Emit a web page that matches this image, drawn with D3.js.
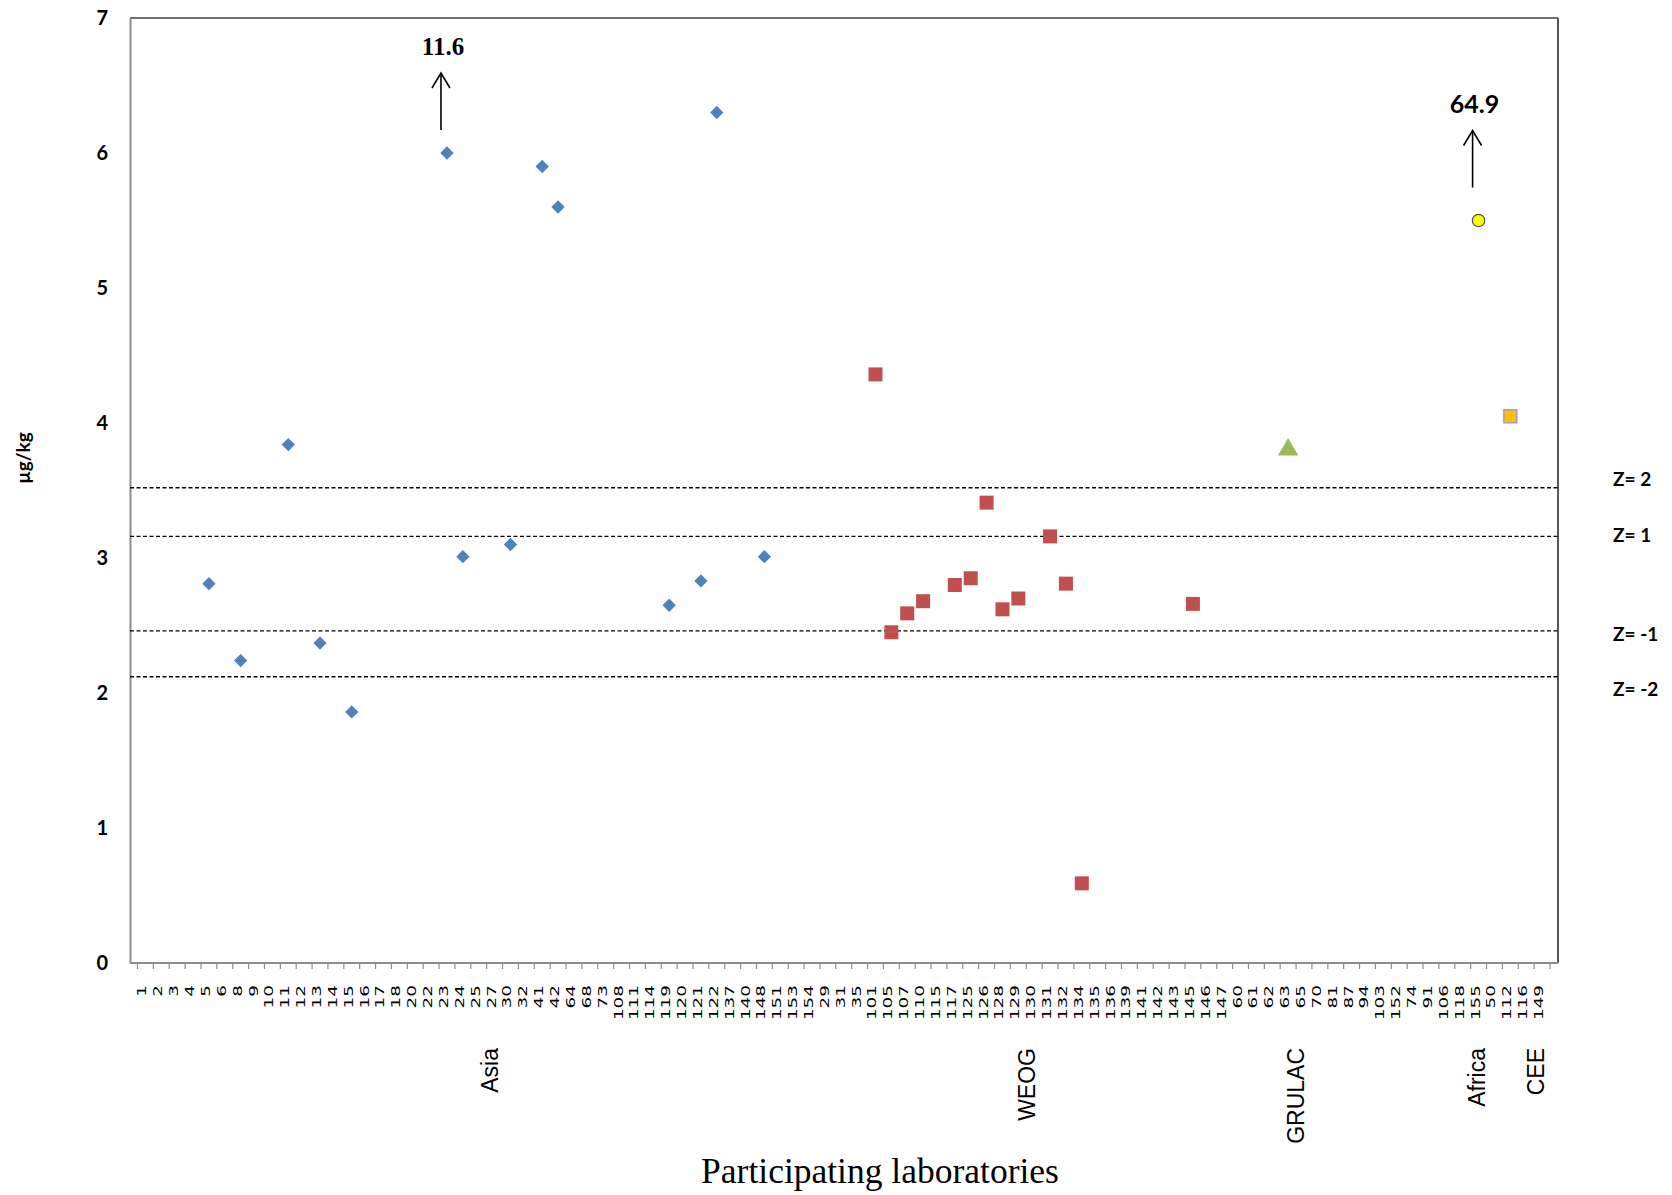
<!DOCTYPE html>
<html>
<head>
<meta charset="utf-8">
<script src="https://cdn.jsdelivr.net/npm/d3@7"></script>
<style>
  html, body { margin: 0; padding: 0; background: #fff; }
  svg { display: block; }
</style>
</head>
<body>
<svg id="chart" width="1672" height="1195"></svg>
<script>
// ---------- DATA ----------
const labs = ["1","2","3","4","5","6","8","9","10","11","12","13","14","15","16","17","18","20","22","23","24","25","27","30","32","41","42","64","68","73","108","111","114","119","120","121","122","137","140","148","151","153","154","29","31","35","101","105","107","110","115","117","125","126","128","129","130","131","132","134","135","136","139","141","142","143","145","146","147","60","61","62","63","65","70","81","87","94","103","152","74","91","106","118","155","50","112","116","149"];

const asiaLabs = ["5","8","11","13","15","23","24","30","41","42","119","121","122","148"];
const asiaVals = [2.81, 2.24, 3.84, 2.37, 1.86, 6.0, 3.01, 3.10, 5.90, 5.60, 2.65, 2.83, 6.30, 3.01];

const weogLabs = ["101","105","107","110","117","125","126","128","129","131","132","134","145"];
const weogVals = [4.36, 2.45, 2.59, 2.68, 2.80, 2.85, 3.41, 2.62, 2.70, 3.16, 2.81, 0.59, 2.66];

const grulacLabs = ["63"];
const grulacVals = [3.81];

const africaLabs = ["155"];
const africaVals = [5.50];

const ceeLabs = ["112"];
const ceeVals = [4.05];

const zValues = [3.52, 3.16, 2.46, 2.12];
const zLabels = ["Z= 2", "Z= 1", "Z= -1", "Z= -2"];

const offLabs = ["23", "155"];
const offTexts = ["11.6", "64.9"];

const regionNames = ["Asia", "WEOG", "GRULAC", "Africa", "CEE"];
const regionAt = ["25", "129", "63", "155", "116"];

const yTicks = [0, 1, 2, 3, 4, 5, 6, 7];

// ---------- LAYOUT ----------
const svg = d3.select("#chart");
const L = 130, R = 1558, T = 18, B = 963;

const x = d3.scaleBand().domain(labs).range([137.5, 1550]).paddingInner(0).paddingOuter(0);
const y = d3.scaleLinear().domain([0, 7]).range([B, T]);
const cx = d => x(d) + x.bandwidth() / 2;
const bw = x.bandwidth();

// plot border
svg.append("line").attr("x1", L).attr("x2", R).attr("y1", T).attr("y2", T)
  .attr("stroke", "#404040").attr("stroke-width", 1.5);
svg.append("line").attr("x1", R).attr("x2", R).attr("y1", T).attr("y2", B)
  .attr("stroke", "#202020").attr("stroke-width", 1.5);

// Y axis
const yAxis = svg.append("g").attr("transform", `translate(${L},0)`)
  .call(d3.axisLeft(y).tickValues(yTicks).tickSize(0).tickPadding(22).tickFormat(d3.format("d")));
yAxis.select(".domain").attr("stroke", "#8c8c8c").attr("stroke-width", 2);
yAxis.selectAll("text").attr("font-family", "Lato, 'Open Sans', sans-serif")
  .attr("font-weight", "bold").attr("font-size", 20).attr("fill", "#000");

// X axis line
svg.append("line").attr("x1", L).attr("x2", R).attr("y1", B).attr("y2", B)
  .attr("stroke", "#8c8c8c").attr("stroke-width", 2);
// tick marks at band boundaries
const bounds = labs.map(d => x(d)).concat([x(labs[labs.length - 1]) + bw]);
svg.append("g").selectAll("line").data(bounds).join("line")
  .attr("x1", d => d).attr("x2", d => d).attr("y1", B).attr("y2", B + 6)
  .attr("stroke", "#8c8c8c").attr("stroke-width", 1.2);
// tick labels (rotated, stretched like the original)
svg.append("g").selectAll("text").data(labs).join("text")
  .attr("transform", d => `translate(${cx(d) + 1},${985}) rotate(-90) scale(1.6,1)`)
  .attr("text-anchor", "end")
  .attr("font-family", "'DejaVu Sans', Verdana, sans-serif")
  .attr("font-size", 11.5).attr("fill", "#000")
  .text(d => d);

// Region labels
const regionFrac = [0.74, 0.55, 0.48, -0.1, 0.6];
svg.append("g").selectAll("text").data(regionNames).join("text")
  .attr("transform", (d, i) => `translate(${cx(regionAt[i]) + regionFrac[i] * bw + 8},${1048}) rotate(-90)`)
  .attr("text-anchor", "end")
  .attr("font-family", "'Liberation Sans', Arial, sans-serif")
  .attr("font-size", 23).attr("fill", "#000")
  .text(d => d);

// Z lines
svg.append("g").selectAll("line").data(zValues).join("line")
  .attr("x1", L).attr("x2", R).attr("y1", d => y(d)).attr("y2", d => y(d))
  .attr("stroke", "#000").attr("stroke-width", 1.4).attr("stroke-dasharray", "4,2.5");
const zDy = [-8, -1, 3, 13];
svg.append("g").selectAll("text").data(zValues).join("text")
  .attr("x", 1613).attr("y", (d, i) => y(d) + zDy[i]).attr("dy", "0.35em")
  .attr("font-family", "Lato, 'Open Sans', sans-serif").attr("font-weight", "bold")
  .attr("font-size", 19).attr("fill", "#000")
  .text((d, i) => zLabels[i]);

// Axis titles
svg.append("text").attr("transform", `translate(30,${458}) rotate(-90)`)
  .attr("text-anchor", "middle")
  .attr("font-family", "Lato, 'Open Sans', sans-serif").attr("font-weight", "bold")
  .attr("font-size", 19).attr("fill", "#000").text("µg/kg");
svg.append("text").attr("x", 880).attr("y", 1183).attr("text-anchor", "middle")
  .attr("font-family", "'Liberation Serif', 'Times New Roman', serif")
  .attr("font-size", 35.5).attr("fill", "#000").text("Participating laboratories");

// ---------- MARKS ----------
svg.append("g").selectAll("path").data(asiaLabs).join("path")
  .attr("d", d3.symbol().type(d3.symbolSquare).size(88)())
  .attr("transform", (d, i) => `translate(${cx(d)},${y(asiaVals[i])}) rotate(45)`)
  .attr("fill", "#4F81BD");

svg.append("g").selectAll("rect").data(weogLabs).join("rect")
  .attr("x", d => cx(d) - 7).attr("y", (d, i) => y(weogVals[i]) - 7)
  .attr("width", 14).attr("height", 14)
  .attr("fill", "#C0504D");

svg.append("g").selectAll("path").data(grulacLabs).join("path")
  .attr("d", d3.symbol().type(d3.symbolTriangle).size(180)())
  .attr("transform", (d, i) => `translate(${cx(d)},${y(grulacVals[i]) + 1})`)
  .attr("fill", "#9BBB59");

svg.append("g").selectAll("circle").data(africaLabs).join("circle")
  .attr("cx", d => cx(d)).attr("cy", (d, i) => y(africaVals[i])).attr("r", 6.2)
  .attr("fill", "#FFFF00").attr("stroke", "#555").attr("stroke-width", 1.3);

svg.append("g").selectAll("rect").data(ceeLabs).join("rect")
  .attr("x", d => cx(d) - 6.5).attr("y", (d, i) => y(ceeVals[i]) - 6.5)
  .attr("width", 13).attr("height", 13)
  .attr("fill", "#FFC000").attr("stroke", "#A99BC9").attr("stroke-width", 1.5);

// Off-scale arrows and values
const offVals = [asiaVals[asiaLabs.indexOf("23")], africaVals[africaLabs.indexOf("155")]];
const offGap = [23, 33];
const offFont = ["'Liberation Serif', 'Times New Roman', serif", "Lato, 'Open Sans', sans-serif"];
const gOff = svg.append("g");
offLabs.forEach((lab, i) => {
  const ax = cx(lab) - 6;
  const y0 = y(offVals[i]) - offGap[i], y1 = y0 - 57;
  gOff.append("line").attr("x1", ax).attr("x2", ax).attr("y1", y0).attr("y2", y1)
    .attr("stroke", "#000").attr("stroke-width", 1.6);
  gOff.append("path").attr("d", `M${ax - 9},${y1 + 15} L${ax},${y1} L${ax + 9},${y1 + 15}`)
    .attr("fill", "none").attr("stroke", "#000").attr("stroke-width", 1.6);
  gOff.append("text").attr("x", ax + 2).attr("y", y1 - 18).attr("text-anchor", "middle")
    .attr("font-family", offFont[i]).attr("font-weight", "bold")
    .attr("font-size", 25).attr("fill", "#000").text(offTexts[i]);
});
</script>
</body>
</html>
